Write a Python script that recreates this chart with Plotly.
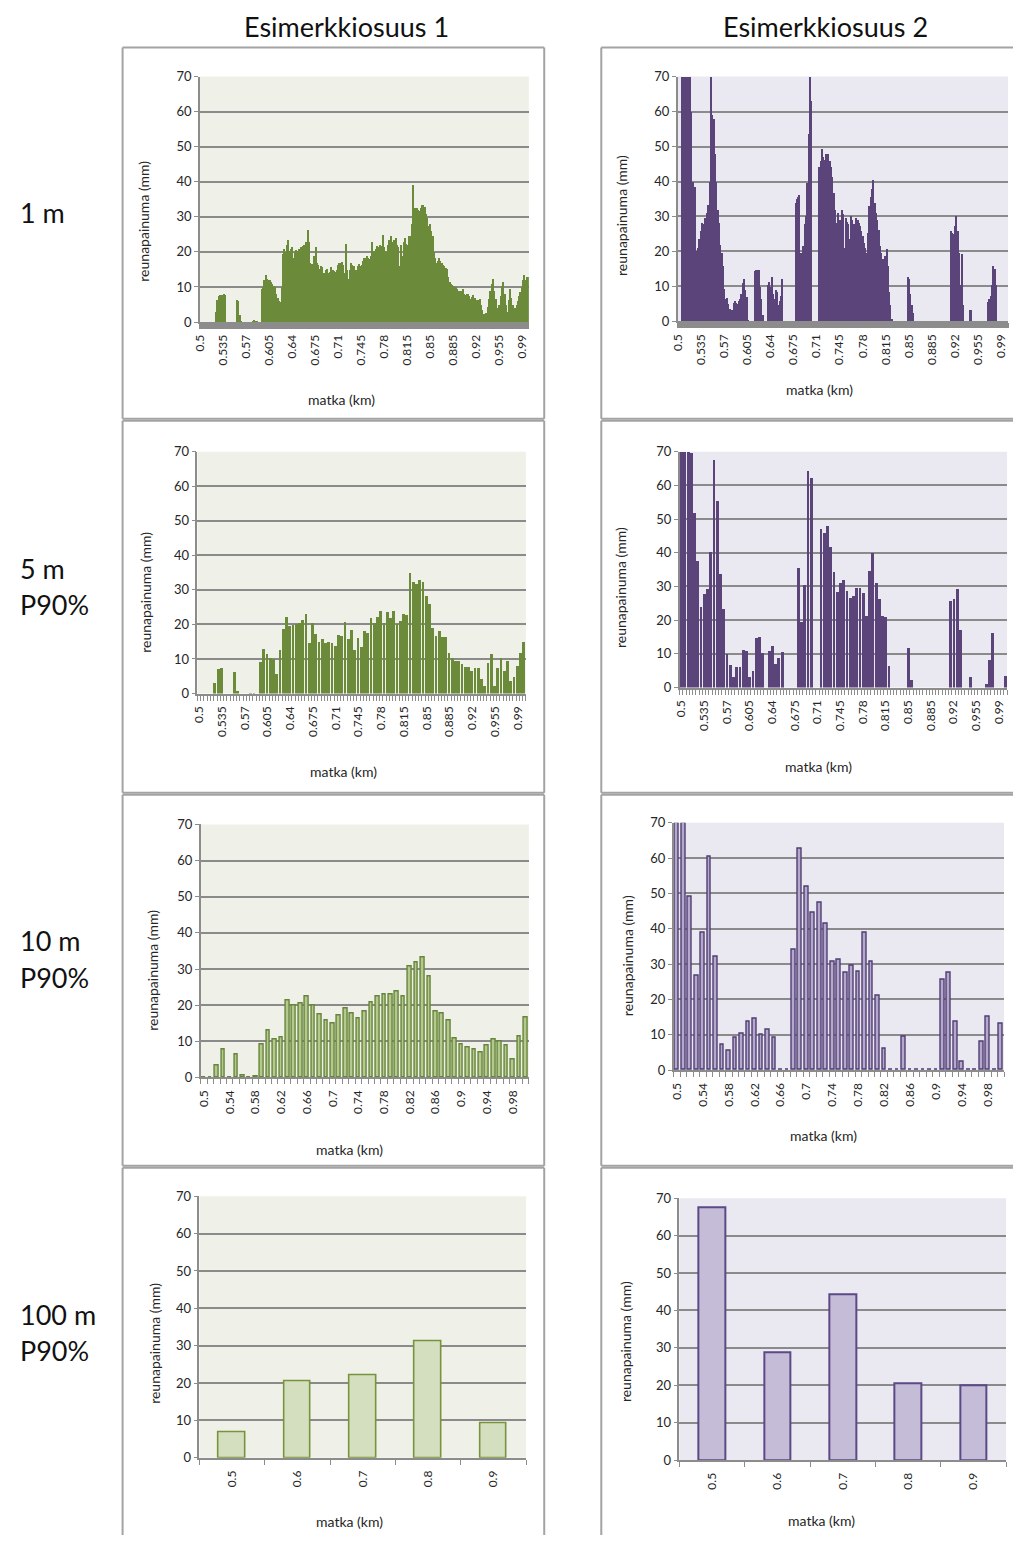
import plotly.graph_objects as go

W, H = 1013, 1543

# ---------------- DATA ----------------
# 1 m resolution (read every 2 m), km 0.500 ... 1.000
left_1m = [
    0, 0, 0, 0, 0, 0, 0, 0, 0, 0,
    0, 0, 3, 6.5, 7.5, 7.8, 7.5, 7.9, 8, 7.8,
    0, 0, 0, 0, 0, 0, 0, 0, 6.5, 6,
    2, 0.5, 0, 0, 0, 0, 0, 0, 0, 0,
    0.4, 0.6, 0.5, 0.3, 0, 0, 0, 9.4, 10, 12,
    13.4, 12.5, 12, 12.2, 11.5, 11, 10.5, 10, 8, 7,
    6, 5.8, 10, 19.5, 21, 20, 22, 23.5, 20.4, 21,
    21.4, 18.5, 20, 20.8, 20.5, 21, 20.5, 21.5, 21.8, 22,
    22, 23, 26.5, 23, 17, 16.7, 16.5, 19, 21.4, 17,
    16.5, 15.2, 16, 15.8, 14, 14.2, 15, 15.2, 14, 14.5,
    15.7, 15, 14.8, 14.5, 15, 16.5, 17, 17, 17.2, 16.5,
    14, 22.5, 15, 12.4, 15, 17, 16.5, 16, 12.5, 15,
    16, 16.7, 16, 16.5, 17.5, 18.5, 18.5, 19, 18.5, 18,
    19, 23, 20.5, 20.4, 21, 21.8, 21.5, 22, 21.8, 25,
    21.4, 20.5, 20, 22, 23.5, 24.6, 22.5, 23, 23.5, 24.2,
    22, 21.5, 16.2, 22, 19, 23, 24, 22.5, 22, 24.6,
    24.6, 28, 39.2, 32.6, 32.5, 32.6, 32, 31.8, 32.5, 33.6,
    33.6, 33, 31, 29.8, 27.5, 28, 26, 24.6, 20, 18.5,
    17, 17.5, 18.5, 17.5, 17, 16.5, 16.2, 15.5, 15.2, 13,
    11.5, 11, 10.8, 10.5, 10, 10.2, 9.6, 9, 8.7, 9,
    9.5, 8, 7.7, 8, 8.2, 7.5, 6.8, 7.2, 7.7, 7,
    6.5, 6.3, 6.5, 6.8, 5, 3.5, 2.5, 2.5, 2.8, 4.5,
    6.8, 9, 11, 12.4, 9, 6.8, 4, 3, 5, 7.5,
    10.5, 11.5, 8, 5, 3, 6.5, 9.6, 7, 5, 3,
    4, 4.9, 6, 7.5, 8.7, 10, 12, 13.4, 12, 13,
    13,
]
right_1m = [
    0, 0, 0, 70, 70, 70, 70, 70, 70, 70,
    60, 40, 27, 38.5, 20.3, 21, 23.6, 26, 28.3, 28,
    29.7, 29.5, 31, 33.5, 40, 70, 59, 58, 48, 40,
    32, 28.3, 22, 19.8, 16, 9.4, 6.6, 6.8, 5, 3.8,
    2.8, 3.5, 5.5, 6.1, 5.5, 5.2, 6, 6.5, 8, 11,
    12.3, 9, 7, 0.5, 0, 0, 0, 0, 14.6, 14.9,
    14.9, 14.9, 10, 6.6, 1.9, 0, 0, 0, 10.4, 11.3,
    10, 12.7, 8, 6.6, 9, 8.5, 4.7, 6, 7.5, 12.3,
    0, 0, 0, 0, 0, 0, 0, 0, 0, 34,
    35, 35.8, 36.3, 19.8, 14.6, 21.7, 28, 30.2, 39.6, 53.8,
    70, 63.2, 0, 0, 0, 0, 0, 44.3, 46, 49.5,
    47, 46.2, 48.1, 45.3, 48.1, 46, 44.3, 41.5, 36.8, 32,
    28.3, 31.1, 29, 29.2, 32, 30.7, 21.2, 29.7, 28.5, 28,
    23.6, 30.2, 29, 28, 25.5, 29.7, 29.2, 28.3, 27.4, 26,
    24.5, 22.6, 21, 19.8, 25.5, 33, 35.8, 38, 40.6, 34,
    31, 29.2, 26.4, 21.7, 19.8, 18, 17, 18.9, 20.7, 16,
    8.5, 4.7, 0.9, 0, 0, 0, 0, 0, 0, 0,
    0, 0, 0, 0, 12.7, 12.3, 8, 4.7, 2.4, 0,
    0, 0, 0, 0, 0, 0, 0, 0, 0, 0,
    0, 0, 0, 0, 0, 0, 0, 0, 0, 0,
    0, 0, 0, 0, 0, 0, 0, 25.9, 25.5, 25,
    27.4, 30.2, 26, 19.8, 10.4, 19.3, 4.7, 0, 0, 0,
    0, 3.3, 3.3, 0, 0, 0, 0, 0, 0, 0,
    0, 0, 0, 0, 0, 5.7, 6.5, 7.5, 10.4, 16,
    15.1, 10.4, 0, 0, 0, 0, 0, 0, 0, 0,
    0,
]
# 5 m, P90 %, km 0.500 ... 1.000 step 0.005
left_5m = [
    0, 0, 0, 0, 0, 3.2, 7.3, 7.6, 0, 0,
    0, 6.2, 0.8, 0, 0, 0, 0.1, 0.2, 0, 9.1,
    13, 11.6, 10.5, 10.1, 5.8, 12.7, 18.8, 22.2, 19.7, 19.9,
    20.2, 20.5, 21.3, 23.2, 14.8, 20.6, 17.4, 15.1, 15.9, 14.8,
    15.1, 14.6, 13.9, 17, 16.7, 20.8, 15.8, 18.4, 12.8, 16.2,
    13.5, 18.1, 17.5, 22, 20.6, 22.3, 24, 20.5, 23.6, 22.1,
    24, 20.2, 21.2, 23.1, 22.7, 35.1, 32.3, 31.8, 32.9, 32.3,
    28.3, 26, 19.1, 16.7, 18.1, 16.6, 16.5, 11.7, 10.5, 9.6,
    9.4, 8.6, 7.8, 7.8, 6.6, 7.6, 7.4, 4.4, 2.4, 8.9,
    11.6, 2.4, 7.6, 10.5, 6.5, 9.4, 3.8, 5, 8.1, 11.7,
    15.1,
]
right_5m = [
    70, 70, 70, 69.6, 51.9, 37.7, 24, 27.9, 29.4, 40.2,
    67.6, 55.6, 33.8, 23.5, 10, 6.7, 3.2, 6.2, 6.2, 11.3,
    11, 3.2, 4.9, 14.7, 15, 10.5, 0, 11, 12.5, 7.1,
    8.8, 10.8, 0, 0, 0, 0, 35.5, 19.6, 30.4, 64.4,
    62.2, 0, 0, 47.3, 46, 48, 41.8, 34.5, 28.4, 31.1,
    32.1, 28.7, 26.7, 27.2, 29.6, 29.6, 28.2, 21.2, 34.7, 40,
    31, 26.3, 21.4, 20.9, 6.4, 0, 0, 0, 0, 0,
    11.8, 2.3, 0, 0, 0, 0, 0, 0, 0, 0,
    0, 0, 0, 25.9, 26.4, 29.3, 17.2, 0, 0, 3.2,
    0, 0, 0, 0, 1.3, 8.3, 16.2, 0, 0, 0,
    3.6,
]
# 10 m, P90 %, km 0.50 ... 1.00 step 0.01
left_10m = [
    0, 0, 3.4, 7.8, 0, 6.3, 0.5, 0, 0.3, 9.1,
    12.9, 10.5, 11.2, 21.4, 19.8, 20.5, 22.4, 20, 17.5, 15.8,
    15, 17.1, 19.2, 17.6, 16.4, 18.2, 20.8, 22.4, 23.1, 22.9,
    23.8, 22.5, 30.8, 31.8, 33.1, 28, 18.4, 17.8, 15.8, 10.7,
    9.1, 8.2, 7.8, 7, 8.8, 10.4, 10, 8.9, 4.9, 11.4,
    16.6,
]
right_10m = [
    70, 70, 49, 26.8, 39, 60.5, 32, 7.3, 5.6, 9.3,
    10.4, 13.8, 14.6, 9.9, 11.4, 9.2, 0, 0, 34.1, 62.7,
    52, 44.6, 47.5, 41.5, 30.8, 31.3, 27.5, 29.6, 27.8, 39,
    30.7, 21, 6, 0, 0, 9.5, 0, 0, 0, 0,
    0, 25.5, 27.7, 13.8, 2.5, 0, 0, 7.9, 15.2, 0,
    13.1,
]
# 100 m, P90 %
km_100m = [0.5, 0.6, 0.7, 0.8, 0.9]
left_100m = [6.8, 20.6, 22.1, 31.2, 9.2]
right_100m = [67.6, 28.8, 44.4, 20.5, 19.9]

ticks_1m5m = ["0.5", "0.535", "0.57", "0.605", "0.64", "0.675", "0.71", "0.745",
              "0.78", "0.815", "0.85", "0.885", "0.92", "0.955", "0.99"]
ticks_10m = ["0.5", "0.54", "0.58", "0.62", "0.66", "0.7", "0.74", "0.78",
             "0.82", "0.86", "0.9", "0.94", "0.98"]
ticks_100m = ["0.5", "0.6", "0.7", "0.8", "0.9"]

col_titles = ["Esimerkkiosuus 1", "Esimerkkiosuus 2"]
y_title = "reunapainuma (mm)"
x_title = "matka (km)"

# category positions (km)
km_1m = [round(0.5 + 0.002 * i, 3) for i in range(len(left_1m))]
km_5m = [round(0.5 + 0.005 * i, 3) for i in range(len(left_5m))]
km_10m = [round(0.5 + 0.01 * i, 2) for i in range(len(left_10m))]

# ---------------- STYLE ----------------
FONT = "Lato, 'Open Sans', sans-serif"
GREEN = "#6b8a3a"
PURPLE = "#5a4479"
BG_L = "#eff0e8"
BG_R = "#eae8f0"
GRID = "#8a8a8a"
AXIS = "#8c8c8c"
BORDER = "#a3a3a3"

# plot-area pixel boxes: (x0, x1, ytop, ybottom)
boxes = [
    (193.5, 525, 69.3, 317.3), (675, 1008, 69.3, 316.7),
    (191, 522, 448.3, 692.7), (677, 1007, 448.3, 686.7),
    (194.3, 525, 825, 1080.7), (671, 1004, 823.3, 1073.3),
    (193, 522.3, 1200.7, 1465), (676.7, 1006, 1202.7, 1467.3),
]

series = [
    (km_1m, left_1m, 0.0021, GREEN, GREEN, 0, BG_L, ticks_1m5m, [0.4995, 1.0005], 0.4995, 0.001),
    (km_1m, right_1m, 0.0021, PURPLE, PURPLE, 0, BG_R, ticks_1m5m, [0.4995, 1.0005], 0.4995, 0.001),
    (km_5m, left_5m, 0.0043, GREEN, GREEN, 0, BG_L, ticks_1m5m, [0.4975, 1.0025], 0.4975, 0.005),
    (km_5m, right_5m, 0.0043, PURPLE, PURPLE, 0, BG_R, ticks_1m5m, [0.4975, 1.0025], 0.4975, 0.005),
    (km_10m, left_10m, 0.0057, "#b5c98f", "#66853a", 1.4, BG_L, ticks_10m, [0.495, 1.005], 0.495, 0.01),
    (km_10m, right_10m, 0.0057, "#b4a8cc", "#4f3d72", 1.4, BG_R, ticks_10m, [0.495, 1.005], 0.495, 0.01),
    (km_100m, left_100m, 0.041, "#d3dfbf", "#77933c", 1.6, BG_L, ticks_100m, [0.45, 0.95], 0.45, 0.1),
    (km_100m, right_100m, 0.041, "#c5bcd7", "#5b4a86", 2, BG_R, ticks_100m, [0.45, 0.95], 0.45, 0.1),
]

fig = go.Figure()
layout = {}
for i, (box, s) in enumerate(zip(boxes, series), start=1):
    x0, x1, yt, yb = box
    xs, ys, width, fill, line, lw, bg, tlabels, xr, t0, dt = s
    sfx = "" if i == 1 else str(i)
    fig.add_trace(go.Bar(
        x=xs, y=ys, width=width,
        marker=dict(color=fill, line=dict(color=line, width=lw)),
        xaxis="x" + sfx, yaxis="y" + sfx, showlegend=False, hoverinfo="x+y",
    ))
    layout["xaxis" + sfx] = dict(
        domain=[x0 / W, x1 / W], anchor="y" + sfx, range=xr,
        tickmode="array", tickvals=[float(t) for t in tlabels], ticktext=tlabels,
        tickangle=-90, ticks="outside", ticklen=6, tickcolor="rgba(0,0,0,0)",
        tickfont=dict(family=FONT, size=12, color="#262626"),
        showgrid=False, zeroline=False, showline=True, linecolor=AXIS, linewidth=2,
        minor=dict(ticks="outside", ticklen=5, tickcolor=AXIS, tickwidth=1,
                   tick0=t0, dtick=dt, showgrid=False),
        fixedrange=True,
    )
    layout["yaxis" + sfx] = dict(
        domain=[1 - yb / H, 1 - yt / H], anchor="x" + sfx, range=[0, 70],
        tickmode="linear", tick0=0, dtick=10,
        ticks="outside", ticklen=4, tickcolor=AXIS,
        tickfont=dict(family=FONT, size=13, color="#262626"),
        showgrid=True, gridcolor=GRID, gridwidth=2,
        zeroline=False, showline=True, linecolor=AXIS, linewidth=1.5,
        fixedrange=True,
    )

fig.update_layout(**layout)

# plot backgrounds per panel (different colours left/right)
shapes = []
for i, (box, s) in enumerate(zip(boxes, series), start=1):
    sfx = "" if i == 1 else str(i)
    shapes.append(dict(type="rect", xref="x" + sfx + " domain", yref="y" + sfx + " domain",
                       x0=0, x1=1, y0=0, y1=1, fillcolor=s[6], line=dict(width=0),
                       layer="below"))


def seg(xa, ya, xb, yb):
    return dict(type="line", xref="paper", yref="paper",
                x0=xa / W, x1=xb / W, y0=1 - ya / H, y1=1 - yb / H,
                line=dict(color=BORDER, width=2), layer="below")


# panel borders (kept inside the page; right/bottom outer edges run off the page)
rows_px = [(40, 415), (417, 793), (795, 1170), (1172, None)]
left_col = (115.5, 540.5)
right_col_x0 = 598
for (ya, yb) in rows_px:
    bottom = yb if yb is not None else H
    xa, xb = left_col
    shapes.append(seg(xa, ya, xb, ya))
    shapes.append(seg(xa, ya, xa, bottom))
    shapes.append(seg(xb, ya, xb, bottom))
    if yb is not None:
        shapes.append(seg(xa, yb, xb, yb))
    shapes.append(seg(right_col_x0, ya, W, ya))
    shapes.append(seg(right_col_x0, ya, right_col_x0, bottom))
    if yb is not None:
        shapes.append(seg(right_col_x0, yb, W, yb))

ann = []
# column titles
for txt, cx in zip(col_titles, [341, 824]):
    ann.append(dict(text=txt, x=cx / W, y=1 - 19 / H, xref="paper", yref="paper",
                    xanchor="center", yanchor="middle", showarrow=False,
                    font=dict(family=FONT, size=27, color="#111")))
# row labels
row_labels = [("1 m", 207), ("5 m", 566), ("P90%", 603), ("10 m", 942), ("P90%", 980),
              ("100 m", 1320), ("P90%", 1357)]
for txt, cy in row_labels:
    ann.append(dict(text=txt, x=10 / W, y=1 - cy / H, xref="paper", yref="paper",
                    xanchor="left", yanchor="middle", showarrow=False,
                    font=dict(family=FONT, size=27, color="#111")))
# axis titles
ytitle_pos = [(137, 215), (619, 210), (139, 590), (618, 586),
              (146, 972), (624, 958), (147, 1349), (622, 1348)]
xtitle_pos = [(336, 396), (818, 385), (338, 772), (817, 766),
              (344, 1153), (822, 1139), (344, 1529), (820, 1528)]
for (yx, yy), (xx, xy) in zip(ytitle_pos, xtitle_pos):
    ann.append(dict(text=y_title, x=yx / W, y=1 - yy / H, xref="paper", yref="paper",
                    xanchor="center", yanchor="middle", textangle=-90, showarrow=False,
                    font=dict(family=FONT, size=14, color="#262626")))
    ann.append(dict(text=x_title, x=xx / W, y=1 - xy / H, xref="paper", yref="paper",
                    xanchor="center", yanchor="middle", showarrow=False,
                    font=dict(family=FONT, size=14, color="#262626")))

fig.update_layout(
    width=W, height=H, margin=dict(l=0, r=0, t=0, b=0),
    paper_bgcolor="white", plot_bgcolor="rgba(0,0,0,0)",
    shapes=shapes, annotations=ann, bargap=0, showlegend=False,
)

fig.write_html(
    "out.html",
    config={"displayModeBar": False},
    post_script=(
        "document.documentElement.style.margin='0';"
        "document.body.style.margin='0';document.body.style.padding='0';"
        "document.body.style.overflow='hidden';"
        "var gd=document.getElementById('{plot_id}');"
        "gd.style.position='absolute';gd.style.left='0px';gd.style.top='0px';"
    ),
)
